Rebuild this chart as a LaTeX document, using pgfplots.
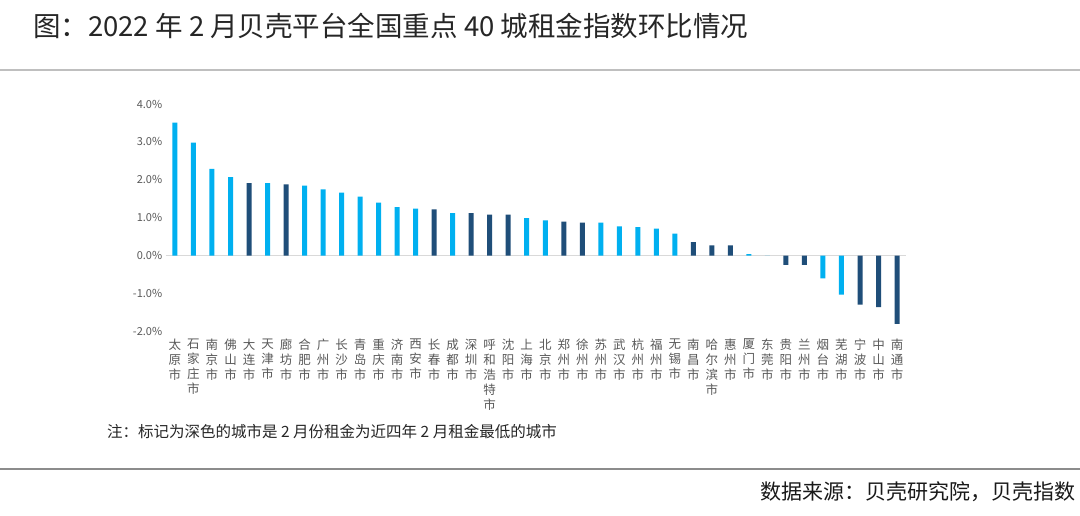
\documentclass[border=0pt]{standalone}
\usepackage{fontspec}
\setmainfont{Noto Sans CJK SC}
\usepackage{pgfplots}
\pgfplotsset{compat=1.18}
\definecolor{lightbar}{HTML}{00B0F0}
\definecolor{darkbar}{HTML}{1F4E79}
\definecolor{ticktext}{HTML}{595959}
\begin{document}
\begin{tikzpicture}[x=1pt,y=1pt]
\path[use as bounding box, fill=white] (0,0) rectangle (1080,515);

% title, rules, note, source
\node[anchor=west, inner sep=0, text=black!85, font=\fontsize{27.5}{32}\selectfont] at (33,489)
  {图：2022 年 2 月贝壳平台全国重点 40 城租金指数环比情况};
\draw[line width=2pt, black!25] (0,445) -- (1080,445);
\node[anchor=west, inner sep=0, text=black!85, font=\fontsize{15.5}{18}\selectfont] at (107,83)
  {注：标记为深色的城市是 2 月份租金为近四年 2 月租金最低的城市};
\draw[line width=1.5pt, black!45] (0,46) -- (1080,46);
\node[anchor=east, inner sep=0, text=black!90, font=\fontsize{21}{24}\selectfont] at (1076,23)
  {数据来源：贝壳研究院，贝壳指数};

\begin{axis}[
  at={(165.7pt,183.5pt)}, anchor=south west,
  scale only axis, width=740.6pt, height=227.5pt,
  xmin=-0.5, xmax=39.5, ymin=-2, ymax=4,
  ybar, bar width=5pt, bar shift=0pt,
  axis line style={draw=none}, major tick length=0pt,
  ytick={-2,-1,0,1,2,3,4},
  yticklabels={-2.0\%,-1.0\%,0.0\%,1.0\%,2.0\%,3.0\%,4.0\%},
  yticklabel style={font=\fontsize{11}{13}\selectfont, text=ticktext},
  extra y ticks={0}, extra y tick labels={},
  extra y tick style={grid=major, grid style={line width=1pt, black!15}},
  xtick={0,...,39},
  xticklabels={{太\\原\\市},{石\\家\\庄\\市},{南\\京\\市},{佛\\山\\市},{大\\连\\市},
    {天\\津\\市},{廊\\坊\\市},{合\\肥\\市},{广\\州\\市},{长\\沙\\市},
    {青\\岛\\市},{重\\庆\\市},{济\\南\\市},{西\\安\\市},{长\\春\\市},
    {成\\都\\市},{深\\圳\\市},{呼\\和\\浩\\特\\市},{沈\\阳\\市},{上\\海\\市},
    {北\\京\\市},{郑\\州\\市},{徐\\州\\市},{苏\\州\\市},{武\\汉\\市},
    {杭\\州\\市},{福\\州\\市},{无\\锡\\市},{南\\昌\\市},{哈\\尔\\滨\\市},
    {惠\\州\\市},{厦\\门\\市},{东\\莞\\市},{贵\\阳\\市},{兰\\州\\市},
    {烟\\台\\市},{芜\\湖\\市},{宁\\波\\市},{中\\山\\市},{南\\通\\市}},
  xticklabel style={align=center, anchor=north, yshift=-4pt,
    font=\fontsize{12.5}{15}\selectfont, text=ticktext},
]
% light: ordinary cities
\addplot[fill=lightbar, draw=none] coordinates {
  (0,3.51) (1,2.98) (2,2.29) (3,2.07) (5,1.91) (7,1.85) (8,1.75) (9,1.66)
  (10,1.56) (11,1.40) (12,1.28) (13,1.24) (15,1.12) (19,0.99) (20,0.93)
  (23,0.87) (24,0.77) (25,0.75) (26,0.71) (27,0.58) (31,0.04) (32,0.00)
  (35,-0.60) (36,-1.03)
};
% dark: lowest February rent in four years
\addplot[fill=darkbar, draw=none] coordinates {
  (4,1.91) (6,1.88) (14,1.22) (16,1.12) (17,1.08) (18,1.08) (21,0.90)
  (22,0.87) (28,0.36) (29,0.27) (30,0.27) (33,-0.24) (34,-0.24)
  (37,-1.29) (38,-1.36) (39,-1.80)
};
\end{axis}
\end{tikzpicture}
\end{document}
